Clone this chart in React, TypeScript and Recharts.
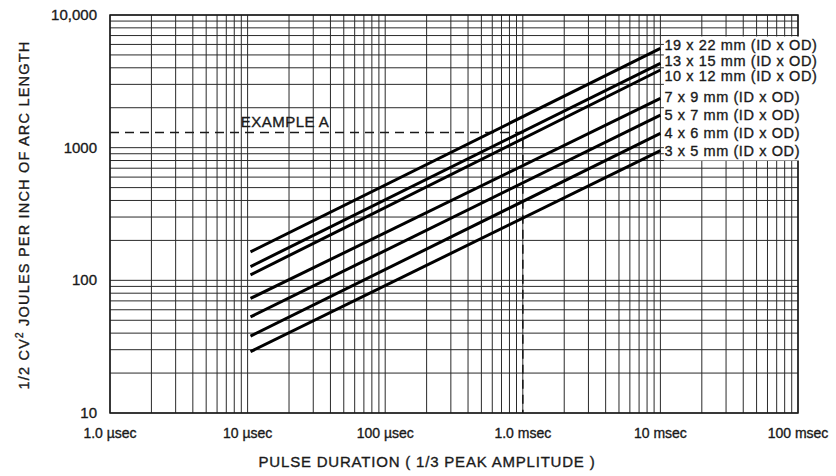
import React from "react";
import {
  LineChart,
  Line,
  XAxis,
  YAxis,
  CartesianGrid,
  ReferenceArea,
  ReferenceDot,
  LabelList,
} from "recharts";

// pulse duration in microseconds
const pulseTimes = [10.5, 10000];

// 1/2 CV^2 joules per inch of arc length, at start and end of each line
const tube19x22 = [164, 5600];
const tube13x15 = [127, 4320];
const tube10x12 = [110, 3850];
const tube7x9 = [73, 2350];
const tube5x7 = [53, 1760];
const tube4x6 = [38, 1280];
const tube3x5 = [29, 950];

const seriesNames = [
  "19 x 22 mm (ID x OD)",
  "13 x 15 mm (ID x OD)",
  "10 x 12 mm (ID x OD)",
  "7 x 9 mm (ID x OD)",
  "5 x 7 mm (ID x OD)",
  "4 x 6 mm (ID x OD)",
  "3 x 5 mm (ID x OD)",
];
const seriesValues = [tube19x22, tube13x15, tube10x12, tube7x9, tube5x7, tube4x6, tube3x5];
// vertical nudge of the end labels
const labelNudge = [-3, -2, 6, -1, 0, 0, 0];

// example A: 1300 J/in at 1.0 msec
const exampleX = [1, 1000, 1000];
const exampleY = [1300, 1300, 10];

const xDecades = [1, 10, 100, 1000, 10000];
const yDecades = [10, 100, 1000];
const steps = [1, 2, 3, 4, 5, 6, 7, 8, 9];
const xGrid = [...xDecades.flatMap((d) => steps.map((s) => s * d)), 100000];
const yGrid = [...yDecades.flatMap((d) => steps.map((s) => s * d)), 10000];

const xTickLabels: Record<number, string> = {
  1: "1.0 \u00b5sec",
  10: "10 \u00b5sec",
  100: "100 \u00b5sec",
  1000: "1.0 msec",
  10000: "10 msec",
  100000: "100 msec",
};
const yTickLabels: Record<number, string> = {
  10: "10",
  100: "100",
  1000: "1000",
  10000: "10,000",
};

const ink = "#1a1a1a";
const font = "'Liberation Sans', Arial, sans-serif";
// scanned print looks heavy, thicken text a little
const heavy = { stroke: ink, strokeWidth: 0.35 };

const XTick = (props: any) => {
  const { x, y, payload } = props;
  const lbl = xTickLabels[payload.value];
  if (!lbl) return <g />;
  return (
    <text x={x} y={y + 25} textAnchor="middle" fontSize={14} fill={ink} fontFamily={font} {...heavy}>
      {lbl}
    </text>
  );
};

const YTick = (props: any) => {
  const { x, y, payload } = props;
  const lbl = yTickLabels[payload.value];
  if (!lbl) return <g />;
  return (
    <text x={x - 13} y={y + 5} textAnchor="end" fontSize={15} fill={ink} fontFamily={font} {...heavy}>
      {lbl}
    </text>
  );
};

const lines = seriesValues.map((vals, i) => ({
  name: seriesNames[i],
  nudge: labelNudge[i],
  data: pulseTimes.map((t, j) => ({ x: t, y: vals[j] })),
}));
const exampleData = exampleX.map((x, i) => ({ x, y: exampleY[i] }));

export default function App() {
  return (
    <div style={{ position: "absolute", left: 0, top: 0, background: "#fff" }}>
      <LineChart width={836} height={476} margin={{ top: 15, right: 38, left: 0, bottom: 0 }}>
        <CartesianGrid stroke="#2a2a2a" strokeWidth={1} horizontal vertical />
        <XAxis
          dataKey="x"
          type="number"
          scale="log"
          domain={[1, 100000]}
          ticks={xGrid}
          interval={0}
          allowDataOverflow
          axisLine={false}
          tickLine={false}
          tickSize={0}
          tickMargin={0}
          height={63}
          tick={<XTick />}
          label={{
            content: (p: any) => {
              const vb = p.viewBox;
              return (
                <text
                  x={vb.x + vb.width / 2 - 27}
                  y={vb.y + 54}
                  textAnchor="middle"
                  fontSize={15}
                  letterSpacing={0.8}
                  fill={ink}
                  fontFamily={font}
                  {...heavy}
                >
                  PULSE DURATION ( 1/3 PEAK AMPLITUDE )
                </text>
              );
            },
          }}
        />
        <YAxis
          type="number"
          scale="log"
          domain={[10, 10000]}
          ticks={yGrid}
          interval={0}
          allowDataOverflow
          axisLine={false}
          tickLine={false}
          tickSize={0}
          tickMargin={0}
          width={110}
          tick={<YTick />}
          label={{
            content: (p: any) => {
              const vb = p.viewBox;
              const cx = vb.x + 24;
              const cy = vb.y + vb.height / 2 + 1;
              return (
                <text
                  x={cx}
                  y={cy}
                  transform={`rotate(-90, ${cx}, ${cy})`}
                  textAnchor="middle"
                  dominantBaseline="central"
                  fontSize={14.5}
                  letterSpacing={1.2}
                  fill={ink}
                  fontFamily={font}
                  {...heavy}
                >
                  1/2 CV<tspan dy={-5} fontSize={10}>2</tspan>
                  <tspan dy={5}>{"  JOULES PER INCH OF ARC LENGTH"}</tspan>
                </text>
              );
            },
          }}
        />
        <ReferenceArea
          x1={1}
          x2={100000}
          y1={10}
          y2={10000}
          fill="none"
          stroke={ink}
          strokeWidth={1.5}
        />
        <ReferenceArea
          x1={10600}
          x2={140000}
          y1={800}
          y2={6900}
          fill="#fff"
          fillOpacity={1}
          stroke="none"
          ifOverflow="visible"
        />
        <Line
          data={exampleData}
          dataKey="y"
          stroke={ink}
          strokeWidth={1.6}
          strokeDasharray="9 6"
          dot={false}
          isAnimationActive={false}
        />
        <ReferenceDot
          x={18.7}
          y={1560}
          r={0}
          fill="none"
          stroke="none"
          label={{
            value: "EXAMPLE A",
            position: "center",
            fontSize: 15,
            letterSpacing: 0.5,
            fill: ink,
            stroke: ink,
            strokeWidth: 0.35,
            fontFamily: font,
          }}
        />
        {lines.map((s) => (
          <Line
            key={s.name}
            data={s.data}
            dataKey="y"
            stroke="#000"
            strokeWidth={3}
            dot={false}
            isAnimationActive={false}
          >
            <LabelList
              dataKey="y"
              content={(p: any) =>
                p.index === s.data.length - 1 ? (
                  <text
                    x={p.x + 4}
                    y={p.y + s.nudge + 5}
                    fontSize={14.5}
                    letterSpacing={0.6}
                    fill={ink}
                    fontFamily={font}
                    {...heavy}
                  >
                    {s.name}
                  </text>
                ) : (
                  <g />
                )
              }
            />
          </Line>
        ))}
      </LineChart>
    </div>
  );
}
